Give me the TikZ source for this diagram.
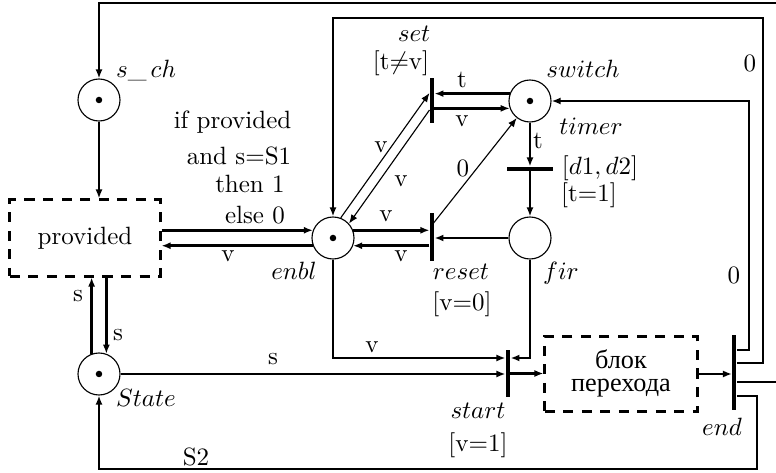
\documentclass[tikz,border=0pt]{standalone}
\usepackage{fontspec}
\newfontfamily\cyr[Scale=1.05]{Liberation Serif}
\usetikzlibrary{arrows.meta,calc}
\begin{document}
\begin{tikzpicture}[x=0.4pt,y=-0.4pt,
  arc/.style={line width=1.1pt},
  thinarc/.style={line width=0.45pt},
  tip/.style={-{Latex[length=3.6pt,width=2.8pt]}},
  place/.style={circle,draw,line width=0.45pt,minimum size=16.8pt,inner sep=0pt},
  vbar/.style={fill=black,inner sep=0pt,minimum width=1.6pt},
  hbar/.style={fill=black,inner sep=0pt,minimum height=1.6pt},
  dbox/.style={draw,line width=1.2pt,dash pattern=on 4pt off 3.4pt,inner sep=0pt},
  lab/.style={anchor=base,inner sep=0pt}]
\useasboundingbox (0,0) rectangle (776,473);
\clip (0,0) rectangle (776,473);
% places
\node[place] (sch) at (99,100) {};
\node[place] (enbl) at (333,238) {};
\node[place] (sw) at (530,101) {};
\node[place] (fir) at (530,238) {};
\node[place] (st) at (99,374) {};
\foreach \p in {sch,enbl,sw,st} \fill (\p) circle (1.3pt);
% boxes
\node[dbox,minimum width=60pt,minimum height=30.4pt] (prov) at (85,238) {provided};
\node[dbox,minimum width=60.8pt,minimum height=30pt] (blk) at (621,374) {};
\node[lab] (b1) at (621,368) {\cyr блок};
\node[lab] (b2) at (621,392) {\cyr перехода};
% transitions
\node[vbar,minimum height=18pt] (set) at (432,100.5) {};
\node[vbar,minimum height=18.8pt] (reset) at (432,237) {};
\node[vbar,minimum height=18.8pt] (start) at (508,373.5) {};
\node[hbar,minimum width=18.4pt] (timer) at (530,169) {};
\node[vbar,minimum height=30pt] (end) at (734.5,372.5) {};
% arcs
\draw[arc,tip] (sch.south) -- (sch.south |- prov.north);
\draw[arc,tip] (enbl.159 -| prov.east) -- (enbl.159);
\draw[arc,tip] (enbl.201) -- (enbl.201 -| prov.east);
\draw[arc,tip] (enbl.21) -- (enbl.21 -| reset.west);
\draw[arc,tip] (enbl.339 -| reset.west) -- (enbl.339);
\draw[arc,tip] (fir.west) -- (fir.west -| reset.east);
\draw[thinarc,tip] ($(reset.north)+(0,12)$) -- (sw.232);
\draw[arc,tip] (sw.160) -- (sw.160 -| set.east);
\draw[arc,tip] (sw.200 -| set.east) -- (sw.200);
\draw[thinarc,tip] (enbl.69) -- (set.west |- 0,93);
\draw[thinarc,tip] (set.west |- 0,110) -- (enbl.42);
\draw[arc,tip] (sw.south) -- (sw.south |- timer.north);
\draw[arc,tip] (timer.south) -- (fir.north);
\draw[arc,tip] (st.110) -- (st.110 |- prov.south);
\draw[arc,tip] (st.70 |- prov.south) -- (st.70);
\draw[arc,tip] (st.east) -- (st.east -| start.west);
\draw[arc,tip] (start.east) -- (start.east -| blk.west);
\draw[arc,tip] (enbl.south) |- ($(start.west)+(0,-15.5)$);
\draw[arc,tip] (fir.south) |- ($(start.east)+(0,-15.5)$);
\draw[arc,tip] (blk.east) -- (blk.east -| end.west);
\draw[arc,tip] (end.east |- 0,350) -- (749,350) |- (sw.east);
\draw[arc,tip] (end.east |- 0,363) -- (763,363) |- (enbl.north |- 0,18) -- (enbl.north);
\draw[arc,tip] (end.east |- 0,382) -- (800,382) |- (sch.north |- 0,3) -- (sch.north);
\draw[arc,tip] (end.east |- 0,396) -- (757,396) |- (st.south |- 0,469) -- (st.south);
% labels
\node[lab] (lsch) at (146,77) {$s\_\,ch$};
\node[lab] (c1) at (232.5,128) {if provided};
\node[lab] (c2) at (239,164) {and s$=$S1};
\node[lab] (c3) at (250,193) {then 1};
\node[lab] (c4) at (255,223) {else 0};
\node[lab] (lv1) at (228,262) {v};
\node[lab] (lenbl) at (294,280) {$enbl$};
\node[lab] (lv2) at (386,222) {v};
\node[lab] (lv3) at (401,262) {v};
\node[lab] (lreset) at (461,280) {$reset$};
\node[lab] (lreset2) at (462,311) {[v$=$0]};
\node[lab] (lfir) at (561,280) {$fir$};
\node[lab] (lset) at (414,41) {$set$};
\node[lab] (lset2) at (401,69) {[t$\neq$v]};
\node[lab] (lt1) at (462,87) {t};
\node[lab] (lv4) at (462,127) {v};
\node[lab] (lv5) at (381,152) {v};
\node[lab] (lv6) at (401,187) {v};
\node[lab] (l0a) at (463,176) {0};
\node[lab] (lsw) at (583,77) {$switch$};
\node[lab] (lt2) at (538,148) {t};
\node[lab] (ltimer) at (591,134) {$timer$};
\node[lab] (ld) at (600,174) {$[d1, d2]$};
\node[lab] (lt3) at (589,202) {[t$=$1]};
\node[lab] (l0b) at (750,71) {0};
\node[lab] (l0c) at (734,283) {0};
\node[lab] (ls1) at (78,302) {s};
\node[lab] (ls2) at (118,341) {s};
\node[lab] (lstate) at (146,407) {$State$};
\node[lab] (ls3) at (273,364) {s};
\node[lab] (lv7) at (372,353) {v};
\node[lab] (lstart) at (478,419) {$start$};
\node[lab] (lstart2) at (478,451) {[v$=$1]};
\node[lab] (lend) at (722,435) {$end$};
\node[lab] (ls2b) at (196,465) {S2};
\end{tikzpicture}
\end{document}
